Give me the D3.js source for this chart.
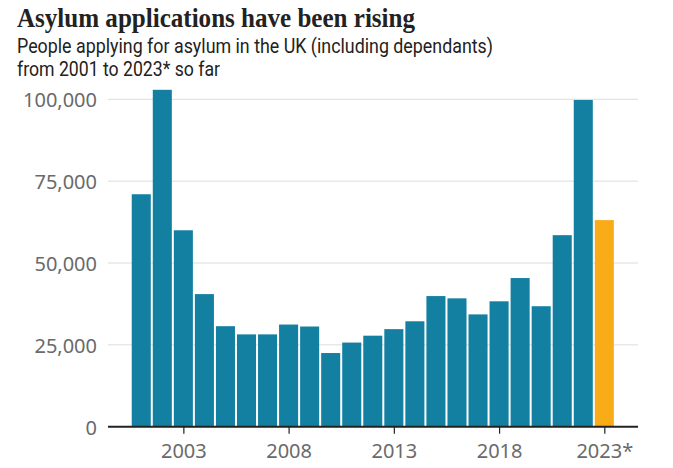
<!DOCTYPE html>
<html><head><meta charset="utf-8">
<script src="https://cdn.jsdelivr.net/npm/d3@7"></script>
<style>
html,body{margin:0;padding:0;background:#fff;}
svg{display:block;}
</style></head>
<body>
<script>
const years = [2001,2002,2003,2004,2005,2006,2007,2008,2009,2010,2011,2012,2013,2014,2015,2016,2017,2018,2019,2020,2021,2022,2023];
const applications = [71000,102900,60000,40500,30700,28200,28200,31200,30600,22500,25700,27800,29800,32200,39900,39200,34300,38300,45400,36800,58500,99800,63100];
const partialYear = 2023;
const yTicks = [0,25000,50000,75000,100000];
const xTicks = [2003,2008,2013,2018,2023];
const xTickLabels = ["2003","2008","2013","2018","2023*"];
const title = "Asylum applications have been rising";
const subtitle = ["People applying for asylum in the UK (including dependants)","from 2001 to 2023* so far"];

const W = 673, H = 468;
const svg = d3.select("body").append("svg").attr("width", W).attr("height", H);

const plotL = 108, plotR = 638, plotT = 99.3, plotB = 426.7;
const x = d3.scaleLinear().domain([1999.42, 2024.6]).range([plotL, plotR]);
const y = d3.scaleLinear().domain([0, 100000]).range([plotB, plotT]);

svg.append("text").attr("x", 17).attr("y", 26.5)
  .attr("font-family", "'Liberation Serif', serif").attr("font-weight", "bold")
  .attr("font-size", 28).attr("fill", "#222")
  .attr("textLength", 398).attr("lengthAdjust", "spacingAndGlyphs").text(title);
const subLens = [476, 203];
svg.selectAll("text.sub").data(subtitle).enter().append("text").attr("class","sub")
  .attr("x", 17).attr("y", (d,i) => 53 + i*23)
  .attr("font-family", "Roboto, sans-serif").attr("font-size", 20.5).attr("fill", "#222")
  .attr("textLength", (d,i) => subLens[i]).attr("lengthAdjust", "spacingAndGlyphs")
  .text(d => d);

// gridlines
svg.append("g").selectAll("line").data(yTicks.filter(d => d > 0)).enter().append("line")
  .attr("x1", plotL).attr("x2", plotR).attr("y1", d => y(d)).attr("y2", d => y(d))
  .attr("stroke", "#dcdcdc").attr("stroke-width", 1);

// y labels
svg.append("g").selectAll("text").data(yTicks).enter().append("text")
  .attr("x", 97).attr("y", d => y(d)).attr("dy", "0.4em").attr("text-anchor", "end")
  .attr("font-family", "'Noto Sans', sans-serif").attr("font-size", 20).attr("fill", "#6a6a6a")
  .text(d => d3.format(",")(d));

// bars
const bw = (x(1) - x(0)) * 0.905;
svg.append("g").selectAll("rect").data(years).enter().append("rect")
  .attr("x", (d) => x(d) - bw/2).attr("width", bw)
  .attr("y", (d,i) => y(applications[i])).attr("height", (d,i) => y(0) - y(applications[i]))
  .attr("fill", d => d === partialYear ? "#FAAB18" : "#1380A1");

// x axis
const xAxis = d3.axisBottom(x).tickValues(xTicks).tickSize(7).tickPadding(10)
  .tickFormat((d,i) => xTickLabels[i]);
const gx = svg.append("g").attr("transform", `translate(0,${plotB})`).call(xAxis);
gx.select(".domain").attr("stroke", "#222").attr("stroke-width", 2).attr("d", `M${plotL},0H${plotR}`);
gx.selectAll(".tick line").attr("stroke", "#222").attr("stroke-width", 1.2);
gx.selectAll(".tick text").attr("font-family", "'Noto Sans', sans-serif").attr("font-size", 20).attr("fill", "#6a6a6a");
</script>
</body></html>
